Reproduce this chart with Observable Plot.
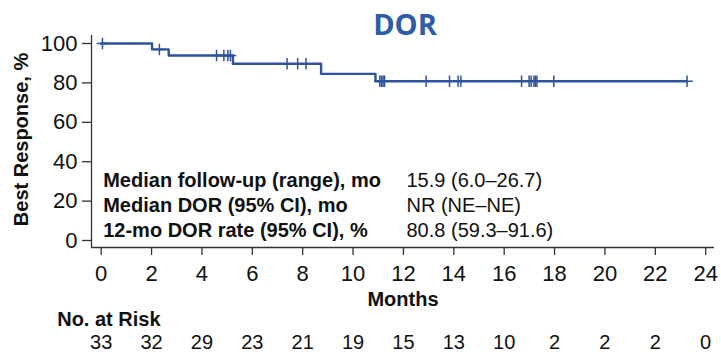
<!DOCTYPE html>
<html>
<head>
<meta charset="utf-8">
<script src="https://cdn.jsdelivr.net/npm/d3@7"></script>
<script src="https://cdn.jsdelivr.net/npm/@observablehq/plot@0.6"></script>
<style>
  html, body { margin: 0; padding: 0; background: #fff; }
  #chart svg { display: block; }
</style>
</head>
<body>
<div id="chart"></div>
<script>
// ---- Data ----
const titleText = "DOR";
const xLabel = "Months";
const yLabel = "Best Response, %";
const riskHeader = "No. at Risk";
const monthTicks = [0, 2, 4, 6, 8, 10, 12, 14, 16, 18, 20, 22, 24];
const atRisk = [33, 32, 29, 23, 21, 19, 15, 13, 10, 2, 2, 2, 0];
const yTicks = [0, 20, 40, 60, 80, 100];
// KM step curve (time in months, % in response)
const stepTimes = [0, 2.02, 2.68, 5.23, 8.73, 10.89, 23.26];
const stepSurv  = [100, 97.0, 93.9, 89.7, 84.6, 80.8, 80.8];
// censoring times
const censorTimes = [0.05, 2.31, 4.58, 4.87, 5.03, 5.13, 7.38, 7.80, 8.13,
  11.06, 11.13, 11.19, 11.25, 12.90, 13.83, 14.17, 14.28,
  16.69, 16.99, 17.07, 17.18, 17.24, 17.30, 17.97, 23.26];
const statLabels = ["Median follow-up (range), mo", "Median DOR (95% CI), mo", "12-mo DOR rate (95% CI), %"];
const statValues = ["15.9 (6.0\u201326.7)", "NR (NE\u2013NE)", "80.8 (59.3\u201391.6)"];
const xDomain = [-0.385, 24.35];
const yDomain = [-3.55, 104.06];

// ---- Derived tables ----
const curve = stepTimes.map((t, i) => ({t, s: stepSurv[i]}));
const levelAt = t => { let s = stepSurv[0]; for (let i = 0; i < stepTimes.length; i++) if (stepTimes[i] <= t) s = stepSurv[i]; return s; };
const censors = censorTimes.map(t => ({t, s: levelAt(t)}));
const risk = monthTicks.map((m, i) => ({m, n: atRisk[i]}));

const blue = "#2f52a0";
const axisColor = "#333";
const frameBottom = 247;
const statBaselines = [186.7, 211.7, 236.7];

const marks = [
  Plot.ruleX([xDomain[0]], {stroke: axisColor, strokeWidth: 1.3}),
  Plot.ruleY([yDomain[0]], {stroke: axisColor, strokeWidth: 1.3}),
  Plot.axisY(yTicks, {tickSize: 9, tickPadding: 5, fontSize: 22, stroke: axisColor, strokeWidth: 1.3, fill: "#111", label: null}),
  Plot.axisX(monthTicks, {tickSize: 8, tickPadding: 10, fontSize: 22, stroke: axisColor, strokeWidth: 1.3, fill: "#111", label: null}),
  Plot.line(curve, {x: "t", y: "s", curve: "step-after", stroke: blue, strokeWidth: 2.4}),
  Plot.dot(censors, {x: "t", y: "s", symbol: "plus", r: 3.8, stroke: blue, strokeWidth: 1.5}),
  Plot.text([titleText], {text: d => d, frameAnchor: "top", lineAnchor: "bottom", dx: 2, dy: -1, fontSize: 29, fontWeight: "bold", fill: "#2e5ca8", fontFamily: "Open Sans"}),
  Plot.text([xLabel], {text: d => d, frameAnchor: "bottom", lineAnchor: "bottom", dy: 305 - frameBottom, fontSize: 20, fontWeight: "bold", fill: "#111"}),
  Plot.text([yLabel], {text: d => d, frameAnchor: "left", textAnchor: "middle", lineAnchor: "bottom", rotate: -90, dx: -63.5, dy: -2, fontSize: 20, fontWeight: "bold", fill: "#111"}),
  Plot.text([riskHeader], {text: d => d, frameAnchor: "bottom-left", lineAnchor: "bottom", textAnchor: "start", dx: -34.3, dy: 325 - frameBottom, fontSize: 20, fontWeight: "bold", fill: "#111"}),
  Plot.text(risk, {x: "m", text: "n", frameAnchor: "bottom", lineAnchor: "bottom", dy: 348 - frameBottom, fontSize: 20, fill: "#111"}),
  ...statLabels.map((lab, i) => Plot.text([lab], {text: d => d, frameAnchor: "bottom-left", lineAnchor: "bottom", textAnchor: "start", dx: 11.7, dy: statBaselines[i] - frameBottom, fontSize: 20, fontWeight: "bold", fill: "#111"})),
  ...statValues.map((val, i) => Plot.text([val], {text: d => d, frameAnchor: "bottom-left", lineAnchor: "bottom", textAnchor: "start", dx: 315, dy: statBaselines[i] - frameBottom, fontSize: 20, fill: "#111"}))
];

const chart = Plot.plot({
  width: 721,
  height: 352,
  marginLeft: 91,
  marginRight: 7,
  marginTop: 35,
  marginBottom: 105,
  style: {fontFamily: "Liberation Sans, Arial, sans-serif", background: "#fff", overflow: "visible"},
  x: {domain: xDomain, axis: null},
  y: {domain: yDomain, axis: null},
  marks
});
document.getElementById("chart").appendChild(chart);
</script>
</body>
</html>
